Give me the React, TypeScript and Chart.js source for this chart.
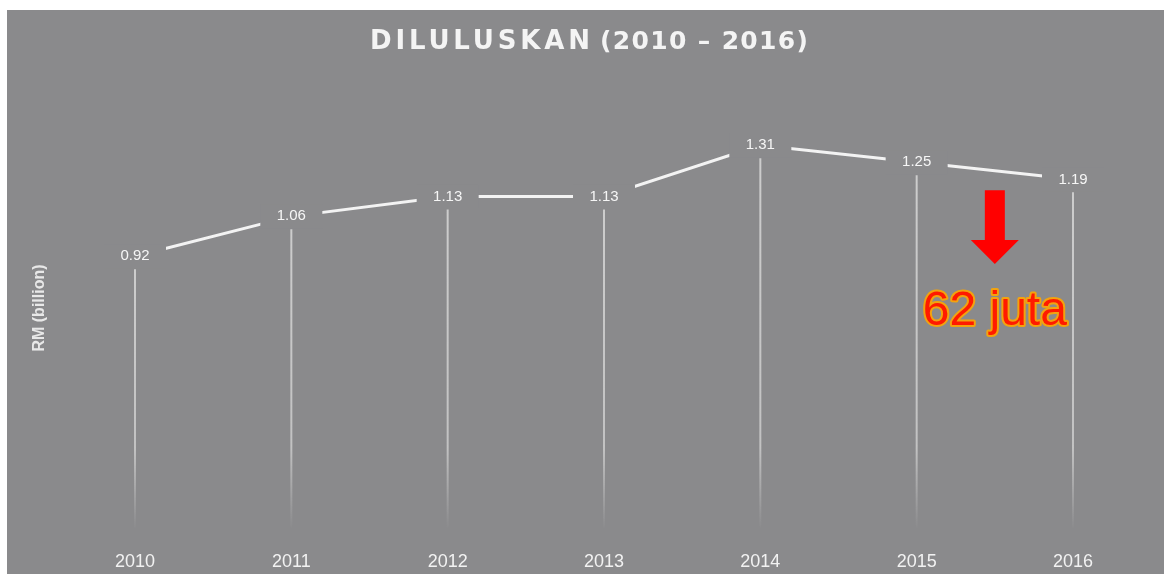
import React, { useEffect, useRef } from "react";
import { Chart, registerables } from "chart.js";

Chart.register(...registerables);

// ---- data ----
const years: string[] = ["2010", "2011", "2012", "2013", "2014", "2015", "2016"];
const values: number[] = [0.92, 1.06, 1.13, 1.13, 1.31, 1.25, 1.19];
const titleMain = "DILULUSKAN";
const titleRange = "(2010 – 2016)";
const yAxisTitle = "RM (billion)";
const calloutText = "62 juta";

// ---- style ----
const BG = "#8a8a8c";
const LINE = "#f3f3f3";
const TEXT = "#f6f6f6";
const DROP = "208,208,208";

// annotation anchor (category index between 2015 and 2016, value-space)
const callout = { index: 5.5, arrowTop: 1.152, arrowNeck: 0.977, arrowTip: 0.8925, textBase: 0.678 };

function drawSpaced(ctx: any, text: string, left: number, targetWidth: number, y: number) {
  ctx.letterSpacing = "0px";
  const w = ctx.measureText(text).width;
  const n = [...text].length;
  const sp = n > 1 ? (targetWidth - w) / (n - 1) : 0;
  ctx.letterSpacing = `${sp}px`;
  ctx.textAlign = "left";
  ctx.fillText(text, left, y);
  ctx.letterSpacing = "0px";
}

const decorPlugin = {
  id: "decor",
  beforeDatasetsDraw(chart: any) {
    const { ctx, scales } = chart;
    const meta = chart.getDatasetMeta(0);
    const zeroY = scales.y.getPixelForValue(0);
    const end = zeroY + 12;
    const fadeStart = zeroY - 70;
    ctx.save();
    meta.data.forEach((pt: any) => {
      const top = pt.y + 13;
      const g = ctx.createLinearGradient(0, top, 0, end);
      const f = Math.max(0, Math.min(1, (fadeStart - top) / (end - top)));
      g.addColorStop(0, `rgba(${DROP},0.95)`);
      g.addColorStop(f, `rgba(${DROP},0.8)`);
      g.addColorStop(1, `rgba(${DROP},0)`);
      ctx.strokeStyle = g;
      ctx.lineWidth = 2;
      ctx.beginPath();
      ctx.moveTo(pt.x, top);
      ctx.lineTo(pt.x, end);
      ctx.stroke();
    });
    ctx.restore();
  },
  afterDatasetsDraw(chart: any) {
    const { ctx, scales } = chart;
    const meta = chart.getDatasetMeta(0);
    ctx.save();
    // value labels with background knock-out boxes
    meta.data.forEach((pt: any, i: number) => {
      ctx.fillStyle = BG;
      ctx.fillRect(pt.x - 31, pt.y - 12, 62, 24);
      ctx.fillStyle = TEXT;
      ctx.font = "15px 'Liberation Sans', Arial, sans-serif";
      ctx.textAlign = "center";
      ctx.textBaseline = "middle";
      ctx.fillText(values[i].toFixed(2), pt.x, pt.y);
    });

    // chart title
    ctx.save();
    ctx.fillStyle = "#f4f4f4";
    ctx.font = "bold 26px 'DejaVu Sans', sans-serif";
    ctx.textBaseline = "alphabetic";
    drawSpaced(ctx, titleMain, 363, 220, 39);
    ctx.font = "bold 25px 'DejaVu Sans', sans-serif";
    drawSpaced(ctx, titleRange, 593, 208, 39);
    ctx.restore();

    // y-axis title
    ctx.save();
    ctx.translate(33, 298);
    ctx.rotate(-Math.PI / 2);
    ctx.fillStyle = "#e8e8e8";
    ctx.font = "bold 16px 'Liberation Sans', Arial, sans-serif";
    ctx.textAlign = "center";
    ctx.textBaseline = "middle";
    ctx.fillText(yAxisTitle, 0, 0);
    ctx.restore();

    // arrow
    const x = scales.x.getPixelForValue(callout.index);
    const yTop = scales.y.getPixelForValue(callout.arrowTop);
    const yNeck = scales.y.getPixelForValue(callout.arrowNeck);
    const yTip = scales.y.getPixelForValue(callout.arrowTip);
    ctx.fillStyle = "#ff0000";
    ctx.beginPath();
    ctx.moveTo(x - 10, yTop);
    ctx.lineTo(x + 10, yTop);
    ctx.lineTo(x + 10, yNeck);
    ctx.lineTo(x + 24, yNeck);
    ctx.lineTo(x, yTip);
    ctx.lineTo(x - 24, yNeck);
    ctx.lineTo(x - 10, yNeck);
    ctx.closePath();
    ctx.fill();

    // callout text
    const yText = scales.y.getPixelForValue(callout.textBase);
    ctx.font = "48px 'Liberation Sans', Arial, sans-serif";
    ctx.textAlign = "center";
    ctx.textBaseline = "alphabetic";
    ctx.lineJoin = "round";
    ctx.strokeStyle = "#f2a30f";
    ctx.lineWidth = 4;
    ctx.strokeText(calloutText, x, yText);
    ctx.fillStyle = "#ff1a00";
    ctx.fillText(calloutText, x, yText);
    ctx.restore();
  },
};

export default function App() {
  const ref = useRef<HTMLCanvasElement | null>(null);
  useEffect(() => {
    if (!ref.current) return;
    const chart = new Chart(ref.current, {
      type: "line",
      data: {
        labels: years,
        datasets: [
          {
            data: values,
            borderColor: LINE,
            borderWidth: 3,
            pointRadius: 0,
            tension: 0,
          },
        ],
      },
      options: {
        animation: false,
        responsive: true,
        maintainAspectRatio: false,
        layout: { padding: { left: 128, right: 91, top: 109.6, bottom: 0 } },
        plugins: {
          legend: { display: false },
          tooltip: { enabled: false },
          title: { display: false },
        },
        scales: {
          x: {
            offset: false,
            grid: { display: false, drawTicks: false },
            border: { display: false },
            ticks: {
              color: "#f2f2f2",
              font: { family: "'Liberation Sans', Arial, sans-serif", size: 18 },
              padding: 33,
              maxRotation: 0,
            },
            afterFit: (scale: any) => {
              scale.height = 56;
            },
          },
          y: { display: false, min: 0, max: 1.4 },
        },
      },
      plugins: [decorPlugin],
    });
    return () => chart.destroy();
  }, []);

  return (
    <div
      style={{
        position: "fixed",
        left: 7,
        top: 10,
        width: 1157,
        height: 564,
        background: BG,
      }}
    >
      <canvas ref={ref} />
    </div>
  );
}
